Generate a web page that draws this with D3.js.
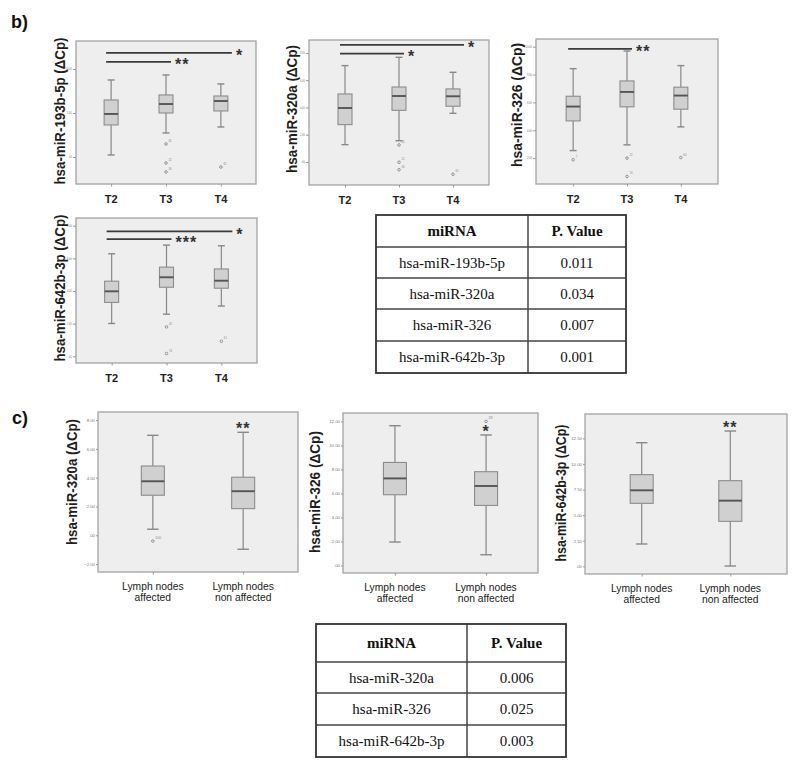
<!DOCTYPE html>
<html><head><meta charset="utf-8">
<script src="https://cdn.jsdelivr.net/npm/d3@7"></script>
<style>body{margin:0;background:#fff}</style>
</head><body>
<svg id="fig" width="798" height="769" xmlns="http://www.w3.org/2000/svg"></svg>
<script>
// ================= DATA =================
const stageGroups = ["T2", "T3", "T4"];
const lymphGroups = ["Lymph nodes|affected", "Lymph nodes|non affected"];

// box stats: [lower whisker, Q1, median, Q3, upper whisker]
const b193Stats = [[0.23, 3.64, 4.89, 6.48, 8.75], [2.73, 5.00, 6.02, 7.05, 9.32], [3.41, 5.23, 6.36, 6.93, 8.30]];
const b193Outliers = [[], [1.48, -0.68, -1.70], [-1.14]];
const b193Cases = [[], ["45", "12", "30"], ["61"]];
const b193Ticks = [0, 5, 10];
const b193Domain = [-3.07, 13.18];
const b193Sig = [{from: "T2", to: "T4", y: 11.82, mark: "*"}, {from: "T2", to: "T3", y: 10.80, mark: "**"}];

const b320Stats = [[1.27, 2.74, 3.96, 4.99, 7.07], [1.56, 3.79, 4.84, 5.50, 7.68], [3.57, 4.09, 4.82, 5.36, 6.58]];
const b320Outliers = [[], [1.25, -0.02, -0.57], [-0.90]];
const b320Cases = [[], ["45", "12", "30"], ["61"]];
const b320Ticks = [0, 2, 4, 6, 8];
const b320Domain = [-1.69, 8.95];
const b320Sig = [{from: "T2", to: "T4", y: 8.59, mark: "*"}, {from: "T2", to: "T3", y: 7.95, mark: "*"}];

const b326Stats = [[2.54, 4.67, 5.70, 6.44, 8.42], [2.95, 5.68, 6.75, 7.54, 9.69], [4.24, 5.51, 6.49, 7.09, 8.64]];
const b326Outliers = [[1.88], [2.00, 0.68], [2.04]];
const b326Cases = [["7"], ["12", "74"], ["60"]];
const b326Ticks = [2, 4, 6, 8, 10];
const b326Domain = [0.14, 10.55];
const b326Sig = [{from: "T2", to: "T3", y: 9.84, mark: "**"}];

const b642Stats = [[2.01, 3.30, 3.98, 4.60, 6.28], [2.58, 4.23, 4.84, 5.46, 6.81], [3.08, 4.17, 4.63, 5.35, 6.77]];
const b642Outliers = [[], [1.80, 0.17], [0.92]];
const b642Cases = [[], ["45", "74"], ["61"]];
const b642Ticks = [0, 2, 4, 6, 8];
const b642Domain = [-0.41, 8.47];
const b642Sig = [{from: "T2", to: "T4", y: 7.65, mark: "*"}, {from: "T2", to: "T3", y: 7.18, mark: "***"}];

const c320Stats = [[0.42, 2.78, 3.75, 4.81, 6.94], [-0.97, 1.85, 3.06, 4.03, 7.15]];
const c320Outliers = [[-0.40], []];
const c320Cases = [["100"], []];
const c320Ticks = [-2, 0, 2, 4, 6, 8];
const c320Domain = [-2.55, 8.56];
const c320Stars = ["", "**"];

const c326Stats = [[1.95, 5.89, 7.25, 8.58, 11.64], [0.89, 5.00, 6.62, 7.81, 10.87]];
const c326Outliers = [[], [12.0]];
const c326Cases = [[], ["28"]];
const c326Ticks = [0, 2, 4, 6, 8, 10, 12];
const c326Domain = [-0.63, 12.7];
const c326Stars = ["", "*"];

const c642Stats = [[2.18, 6.15, 7.42, 8.95, 12.07], [0.03, 4.39, 6.41, 8.36, 13.21]];
const c642Outliers = [[], []];
const c642Cases = [[], []];
const c642Ticks = [0, 2.5, 5, 7.5, 10, 12.5];
const c642Domain = [-0.75, 14.87];
const c642Stars = ["", "**"];

const tableBHeader = ["miRNA", "P. Value"];
const tableBMirs = ["hsa-miR-193b-5p", "hsa-miR-320a", "hsa-miR-326", "hsa-miR-642b-3p"];
const tableBPvals = ["0.011", "0.034", "0.007", "0.001"];
const tableCHeader = ["miRNA", "P. Value"];
const tableCMirs = ["hsa-miR-320a", "hsa-miR-326", "hsa-miR-642b-3p"];
const tableCPvals = ["0.006", "0.025", "0.003"];

// ================= DRAWING =================
const svg = d3.select("#fig");
const spssFmt = v => d3.format(".2f")(v).replace(/^(-?)0\./, "$1.");
const SANS = "Liberation Sans, Arial, sans-serif";

const panels = [
  {kind: "b", label: "hsa-miR-193b-5p (ΔCp)", groups: stageGroups, stats: b193Stats, outliers: b193Outliers, cases: b193Cases,
   ticks: b193Ticks, domain: b193Domain, sig: b193Sig, frame: {x0: 76, x1: 256, y0: 41, y1: 184}, pad: 0.64, boxW: 14,
   lab: {x: 60, y: 111, len: 147}},
  {kind: "b", label: "hsa-miR-320a (ΔCp)", groups: stageGroups, stats: b320Stats, outliers: b320Outliers, cases: b320Cases,
   ticks: b320Ticks, domain: b320Domain, sig: b320Sig, frame: {x0: 309, x1: 489, y0: 40, y1: 185}, pad: 0.667, boxW: 14,
   lab: {x: 292, y: 109, len: 128}},
  {kind: "b", label: "hsa-miR-326 (ΔCp)", groups: stageGroups, stats: b326Stats, outliers: b326Outliers, cases: b326Cases,
   ticks: b326Ticks, domain: b326Domain, sig: b326Sig, frame: {x0: 536, x1: 718, y0: 39, y1: 184}, pad: 0.69, boxW: 14,
   lab: {x: 517, y: 105, len: 124}},
  {kind: "b", label: "hsa-miR-642b-3p (ΔCp)", groups: stageGroups, stats: b642Stats, outliers: b642Outliers, cases: b642Cases,
   ticks: b642Ticks, domain: b642Domain, sig: b642Sig, frame: {x0: 76, x1: 257, y0: 218, y1: 363}, pad: 0.65, boxW: 14,
   lab: {x: 60, y: 288, len: 147}},
  {kind: "c", label: "hsa-miR-320a (ΔCp)", groups: lymphGroups, stats: c320Stats, outliers: c320Outliers, cases: c320Cases,
   ticks: c320Ticks, domain: c320Domain, stars: c320Stars, frame: {x0: 98, x1: 298, y0: 412, y1: 572}, pad: 0.607, boxW: 23,
   lab: {x: 72, y: 482, len: 126}},
  {kind: "c", label: "hsa-miR-326 (ΔCp)", groups: lymphGroups, stats: c326Stats, outliers: c326Outliers, cases: c326Cases,
   ticks: c326Ticks, domain: c326Domain, stars: c326Stars, frame: {x0: 343, x1: 538, y0: 413, y1: 573}, pad: 0.57, boxW: 23,
   lab: {x: 315, y: 492, len: 122}},
  {kind: "c", label: "hsa-miR-642b-3p (ΔCp)", groups: lymphGroups, stats: c642Stats, outliers: c642Outliers, cases: c642Cases,
   ticks: c642Ticks, domain: c642Domain, stars: c642Stars, frame: {x0: 585, x1: 787, y0: 414, y1: 574}, pad: 0.64, boxW: 23,
   lab: {x: 561, y: 493, len: 137}}
];

function drawPanel(p) {
  const f = p.frame;
  const g = svg.append("g");
  const y = d3.scaleLinear().domain(p.domain).range([f.y1, f.y0]);
  const x = d3.scalePoint().domain(p.groups).range([f.x0, f.x1]).padding(p.pad);

  g.append("rect").attr("x", f.x0).attr("y", f.y0).attr("width", f.x1 - f.x0).attr("height", f.y1 - f.y0)
    .attr("fill", "#eeeeee").attr("stroke", "#a4a4a4").attr("stroke-width", 1.3);

  // y axis
  const ya = g.append("g").attr("transform", `translate(${f.x0},0)`)
    .call(d3.axisLeft(y).tickValues(p.ticks).tickSize(p.kind === "b" ? 3 : 2).tickPadding(1).tickFormat(spssFmt));
  ya.select(".domain").remove();
  ya.selectAll(".tick line").attr("stroke", "#999");
  ya.selectAll(".tick text").attr("fill", "#777").attr("font-family", SANS)
    .attr("font-size", p.kind === "b" ? 2.6 : 4.3);

  // x axis ticks
  const xa = g.append("g").attr("transform", `translate(0,${f.y1})`)
    .call(d3.axisBottom(x).tickSize(2.5).tickFormat(""));
  xa.select(".domain").remove();
  xa.selectAll(".tick line").attr("stroke", "#999");

  // x labels
  p.groups.forEach(gr => {
    if (p.kind === "b") {
      g.append("text").attr("x", x(gr)).attr("y", f.y1 + 19).attr("text-anchor", "middle")
        .attr("font-family", SANS).attr("font-weight", "bold").attr("font-size", 11)
        .attr("fill", "#222").text(gr);
    } else {
      const t = g.append("text").attr("text-anchor", "middle")
        .attr("font-family", SANS).attr("font-size", 10.3).attr("fill", "#222");
      gr.split("|").forEach((line, i) => {
        t.append("tspan").attr("x", x(gr)).attr("y", f.y1 + 18 + i * 10.6).text(line);
      });
    }
  });

  // y label
  g.append("text").attr("transform", `translate(${p.lab.x},${p.lab.y}) rotate(-90)`)
    .attr("text-anchor", "middle").attr("dominant-baseline", "central")
    .attr("font-family", SANS).attr("font-weight", "bold").attr("font-size", 14.5)
    .attr("fill", "#1e1e1e").attr("textLength", p.lab.len).attr("lengthAdjust", "spacingAndGlyphs").text(p.label);

  // boxes
  const bw = p.boxW;
  p.groups.forEach((gr, i) => {
    const [lo, q1, md, q3, hi] = p.stats[i];
    const cx = x(gr);
    const bg = g.append("g");
    bg.append("line").attr("x1", cx).attr("x2", cx).attr("y1", y(hi)).attr("y2", y(q3)).attr("stroke", "#888").attr("stroke-width", 1.2);
    bg.append("line").attr("x1", cx).attr("x2", cx).attr("y1", y(q1)).attr("y2", y(lo)).attr("stroke", "#888").attr("stroke-width", 1.2);
    [hi, lo].forEach(v => bg.append("line").attr("x1", cx - bw / 4).attr("x2", cx + bw / 4).attr("y1", y(v)).attr("y2", y(v))
      .attr("stroke", "#888").attr("stroke-width", 1.4));
    bg.append("rect").attr("x", cx - bw / 2).attr("y", y(q3)).attr("width", bw).attr("height", y(q1) - y(q3))
      .attr("fill", "#d0d0d0").attr("stroke", "#8c8c8c").attr("stroke-width", 1.1);
    bg.append("line").attr("x1", cx - bw / 2).attr("x2", cx + bw / 2).attr("y1", y(md)).attr("y2", y(md))
      .attr("stroke", "#555").attr("stroke-width", 1.9);
    p.outliers[i].forEach((v, k) => {
      bg.append("circle").attr("cx", cx).attr("cy", y(v)).attr("r", 1.3).attr("fill", "none").attr("stroke", "#8a8a8a").attr("stroke-width", 0.9);
      bg.append("text").attr("x", cx + 2.5).attr("y", y(v) - 2).attr("font-family", SANS)
        .attr("font-size", p.kind === "b" ? 2.8 : 3.5).attr("fill", "#888").text(p.cases[i][k]);
    });
    if (p.stars && p.stars[i]) {
      g.append("text").attr("x", cx).attr("y", y(hi) - 6.5 + 8.5).attr("text-anchor", "middle")
        .attr("font-family", SANS).attr("font-weight", "bold").attr("font-size", 16)
        .attr("letter-spacing", 1).attr("fill", "#333").text(p.stars[i]);
    }
  });

  // significance brackets
  if (p.sig) {
    p.sig.forEach(s => {
      const xa0 = x(s.from) - 5;
      const xa1 = x(s.to) + (s.to === "T4" ? 11 : 5);
      g.append("line").attr("x1", xa0).attr("x2", xa1).attr("y1", y(s.y)).attr("y2", y(s.y))
        .attr("stroke", "#3a3a3a").attr("stroke-width", 1.8);
      g.append("text").attr("x", xa1 + 4).attr("y", y(s.y) + 8.5)
        .attr("font-family", SANS).attr("font-weight", "bold").attr("font-size", 16)
        .attr("letter-spacing", 1).attr("fill", "#333").text(s.mark);
    });
  }
}
panels.forEach(drawPanel);

function drawTable(header, names, pvals, t) {
  const g = svg.append("g");
  const rowsY = t.rows;
  const rows = [header].concat(names.map((n, i) => [n, pvals[i]]));
  const colX = [t.x0, t.xd, t.x1];
  rows.forEach((r, i) => {
    const yc = (rowsY[i] + rowsY[i + 1]) / 2;
    r.forEach((cell, j) => {
      g.append("text").attr("x", (colX[j] + colX[j + 1]) / 2).attr("y", yc + 5).attr("text-anchor", "middle")
        .attr("font-family", "Liberation Serif, Times New Roman, serif").attr("font-size", 15)
        .attr("font-weight", i === 0 ? "bold" : "normal").attr("fill", "#111").text(cell);
    });
  });
  rowsY.slice(1, -1).forEach(yy => g.append("line").attr("x1", t.x0).attr("x2", t.x1).attr("y1", yy).attr("y2", yy)
    .attr("stroke", "#444").attr("stroke-width", 1.5));
  g.append("line").attr("x1", t.xd).attr("x2", t.xd).attr("y1", rowsY[0]).attr("y2", rowsY[rowsY.length - 1])
    .attr("stroke", "#444").attr("stroke-width", 1.5);
  g.append("rect").attr("x", t.x0).attr("y", rowsY[0]).attr("width", t.x1 - t.x0).attr("height", rowsY[rowsY.length - 1] - rowsY[0])
    .attr("fill", "none").attr("stroke", "#333").attr("stroke-width", 1.8);
}
drawTable(tableBHeader, tableBMirs, tableBPvals, {x0: 376, xd: 528, x1: 626, rows: [215, 247, 278, 309, 341, 373]});
drawTable(tableCHeader, tableCMirs, tableCPvals, {x0: 316, xd: 467, x1: 566, rows: [624, 662, 693, 725, 757]});

// panel letters
svg.append("text").attr("x", 11).attr("y", 28).attr("font-family", SANS)
  .attr("font-weight", "bold").attr("font-size", 18).attr("fill", "#111").text("b)");
svg.append("text").attr("x", 12).attr("y", 424).attr("font-family", SANS)
  .attr("font-weight", "bold").attr("font-size", 18).attr("fill", "#111").text("c)");
</script>
</body></html>
